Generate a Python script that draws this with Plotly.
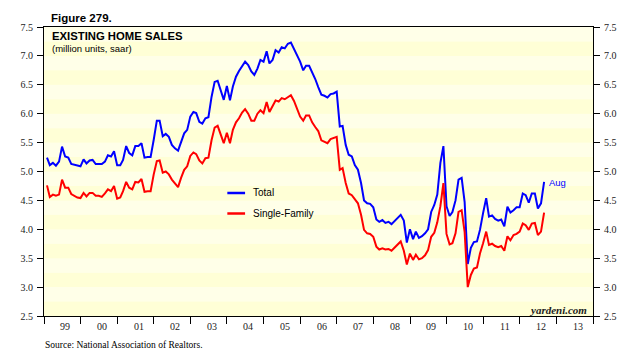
import pandas as pd
import plotly.graph_objects as go

# Existing home sales, million units, saar (monthly, Jan 1999 - Aug 2012)
total_sales = [
    5.24, 5.11, 5.15, 5.10, 5.17, 5.43, 5.26, 5.24, 5.13, 5.12, 5.11, 5.09,  # 1999
    5.21, 5.14, 5.19, 5.20, 5.13, 5.13, 5.13, 5.17, 5.28, 5.26, 5.35, 5.11,  # 2000
    5.11, 5.20, 5.44, 5.32, 5.28, 5.44, 5.44, 5.49, 5.24, 5.25, 5.25, 5.55,  # 2001
    5.88, 5.88, 5.61, 5.65, 5.60, 5.46, 5.40, 5.36, 5.50, 5.66, 5.72, 5.95,  # 2002
    6.03, 6.01, 5.86, 5.83, 5.92, 5.94, 6.29, 6.55, 6.57, 6.40, 6.24, 6.48,  # 2003
    6.23, 6.47, 6.64, 6.74, 6.82, 6.90, 6.84, 6.73, 6.67, 6.78, 6.93, 6.90,  # 2004
    7.08, 6.87, 6.93, 7.10, 7.06, 7.15, 7.13, 7.21, 7.23, 7.12, 7.00, 6.90,  # 2005
    6.75, 6.83, 6.83, 6.72, 6.60, 6.46, 6.33, 6.31, 6.28, 6.34, 6.35, 6.38,  # 2006
    5.78, 5.79, 5.46, 5.29, 5.26, 5.11, 5.03, 4.80, 4.50, 4.45, 4.44, 4.38,  # 2007
    4.17, 4.13, 4.16, 4.11, 4.13, 4.09, 4.14, 4.19, 4.25, 4.15, 3.77, 4.00,  # 2008
    3.83, 3.96, 3.85, 3.88, 3.93, 4.00, 4.30, 4.42, 4.60, 5.15, 5.44, 4.40,  # 2009
    4.23, 4.30, 4.50, 4.86, 4.89, 4.47, 3.40, 3.68, 3.78, 3.79, 3.99, 4.28,  # 2010
    4.54, 4.22, 4.24, 4.18, 4.15, 4.17, 4.05, 4.39, 4.29, 4.33, 4.38, 4.38,  # 2011
    4.62, 4.59, 4.46, 4.62, 4.62, 4.36, 4.45, 4.82,                          # 2012
]

single_family_sales = [
    4.76, 4.56, 4.60, 4.58, 4.60, 4.86, 4.72, 4.72, 4.61, 4.58, 4.55, 4.54,  # 1999
    4.63, 4.57, 4.63, 4.63, 4.58, 4.58, 4.56, 4.62, 4.69, 4.66, 4.75, 4.53,  # 2000
    4.55, 4.66, 4.82, 4.72, 4.69, 4.82, 4.81, 4.87, 4.65, 4.66, 4.66, 4.95,  # 2001
    5.18, 5.19, 4.98, 5.00, 4.95, 4.86, 4.79, 4.73, 4.89, 5.03, 5.09, 5.27,  # 2002
    5.33, 5.30, 5.19, 5.14, 5.23, 5.24, 5.54, 5.76, 5.79, 5.65, 5.49, 5.67,  # 2003
    5.49, 5.72, 5.85, 5.92, 6.02, 6.08, 6.00, 5.88, 5.88, 6.00, 6.06, 6.01,  # 2004
    6.20, 6.03, 6.13, 6.23, 6.21, 6.27, 6.25, 6.29, 6.32, 6.22, 6.10, 5.95,  # 2005
    5.88, 5.97, 5.97, 5.85, 5.77, 5.70, 5.54, 5.52, 5.49, 5.56, 5.58, 5.60,  # 2006
    5.03, 5.06, 4.80, 4.62, 4.59, 4.51, 4.45, 4.25, 3.99, 3.93, 3.92, 3.87,  # 2007
    3.70, 3.65, 3.67, 3.65, 3.66, 3.63, 3.69, 3.74, 3.79, 3.63, 3.39, 3.58,  # 2008
    3.47, 3.56, 3.48, 3.50, 3.55, 3.64, 3.87, 3.94, 4.12, 4.40, 4.80, 3.92,  # 2009
    3.74, 3.76, 3.93, 4.30, 4.33, 3.95, 3.00, 3.21, 3.32, 3.34, 3.58, 3.76,  # 2010
    3.96, 3.73, 3.75, 3.71, 3.69, 3.71, 3.63, 3.88, 3.81, 3.90, 3.92, 3.96,  # 2011
    4.10, 4.07, 3.99, 4.10, 4.11, 3.90, 3.96, 4.29,                          # 2012
]

series_names = ["Total", "Single-Family"]
last_month_label = "Aug"
y_ticks = [2.5, 3.0, 3.5, 4.0, 4.5, 5.0, 5.5, 6.0, 6.5, 7.0, 7.5]
year_labels = ["99", "00", "01", "02", "03", "04", "05", "06",
               "07", "08", "09", "10", "11", "12", "13"]

dates = pd.date_range("1999-01-31", periods=len(total_sales), freq="ME")
year_mids = pd.date_range("1999-07-02", periods=len(year_labels), freq="12MS") + pd.Timedelta(days=1)

BLUE = "#0000FF"
RED = "#FF0000"
TXT = "#222222"

# page has an 8px body margin: figure sits at (8, 8)
OFF = 8
W, H = 642 - 2 * OFF, 357 - 2 * OFF
PL, PT, PR, PB = 36, 27, 593, 316          # plot area in page pixels
L, T = PL - OFF, PT - OFF
R = (OFF + W) - PR
B = (OFF + H) - PB
pw, ph = PR - PL, PB - PT


def px(xp):
    return (xp - PL) / pw


def py(yp):
    return (PB - yp) / ph


fig = go.Figure()
fig.add_trace(go.Scatter(x=dates, y=total_sales, mode="lines", name=series_names[0],
                         line=dict(color=BLUE, width=2), showlegend=False))
fig.add_trace(go.Scatter(x=dates, y=single_family_sales, mode="lines", name=series_names[1],
                         line=dict(color=RED, width=2), showlegend=False))
# invisible trace to activate right axis
fig.add_trace(go.Scatter(x=dates, y=total_sales, mode="lines", yaxis="y2",
                         line=dict(color="rgba(0,0,0,0)", width=0), showlegend=False,
                         hoverinfo="skip"))

# background stripes
shapes = []
v = 2.5
k = 0
while v < 7.5 - 1e-9:
    shapes.append(dict(type="rect", xref="paper", yref="y", x0=0, x1=1, y0=v, y1=v + 0.25,
                       fillcolor="#FFFFD6" if k % 2 == 0 else "#FFFFE8",
                       line=dict(width=0), layer="below"))
    v += 0.25
    k += 1

# legend samples
shapes.append(dict(type="line", xref="paper", yref="paper", x0=px(222), x1=px(240),
                   y0=py(193), y1=py(193), line=dict(color=BLUE, width=2.5)))
shapes.append(dict(type="line", xref="paper", yref="paper", x0=px(222), x1=px(240),
                   y0=py(213.5), y1=py(213.5), line=dict(color=RED, width=2.5)))

sans = "Liberation Sans, Arial"
serif = "Liberation Serif, Times New Roman"

annotations = [
    dict(text="<b>Figure 279.</b>", x=px(41), y=py(17.5), xref="paper", yref="paper",
         xanchor="left", yanchor="middle", showarrow=False,
         font=dict(family=sans, size=11.5, color="#000")),
    dict(text="<b>EXISTING HOME SALES</b>", x=px(42), y=py(36), xref="paper", yref="paper",
         xanchor="left", yanchor="middle", showarrow=False,
         font=dict(family=sans, size=11.3, color="#000")),
    dict(text="(million units, saar)", x=px(42), y=py(49), xref="paper", yref="paper",
         xanchor="left", yanchor="middle", showarrow=False,
         font=dict(family=sans, size=9.5, color="#000")),
    dict(text=series_names[0], x=px(246), y=py(193), xref="paper", yref="paper",
         xanchor="left", yanchor="middle", showarrow=False,
         font=dict(family=sans, size=10, color="#000")),
    dict(text=series_names[1], x=px(246), y=py(213.5), xref="paper", yref="paper",
         xanchor="left", yanchor="middle", showarrow=False,
         font=dict(family=sans, size=10, color="#000")),
    dict(text=last_month_label, x=dates[-1], y=total_sales[-1], xref="x", yref="y",
         xanchor="left", yanchor="middle", xshift=3, yshift=-1, showarrow=False,
         font=dict(family=sans, size=9.5, color=BLUE)),
    dict(text="<b><i>yardeni.com</i></b>", x=px(589), y=py(310), xref="paper", yref="paper",
         xanchor="right", yanchor="middle", showarrow=False,
         font=dict(family=serif, size=11, color="#222")),
    dict(text="Source: National Association of Realtors.", x=px(35), y=py(345),
         xref="paper", yref="paper", xanchor="left", yanchor="middle", showarrow=False,
         font=dict(family=serif, size=9.5, color="#000")),
]
for lab, mid in zip(year_labels, year_mids):
    annotations.append(dict(text=lab, x=mid, y=py(326), xref="x", yref="paper",
                            xanchor="center", yanchor="middle", showarrow=False,
                            font=dict(family=serif, size=10, color=TXT)))

axis_font = dict(family=serif, size=10, color=TXT)

fig.update_layout(
    width=W, height=H,
    margin=dict(l=L, r=R, t=T, b=B, pad=0),
    paper_bgcolor="white",
    plot_bgcolor="#FFFFE0",
    shapes=shapes,
    annotations=annotations,
    showlegend=False,
    xaxis=dict(
        type="date",
        range=["1999-01-01", "2014-01-01"],
        tick0="1999-01-01", dtick="M12",
        showticklabels=False,
        ticks="outside", ticklen=7, tickwidth=1, tickcolor="#000",
        showline=True, linecolor="#000", linewidth=1, mirror=True,
        showgrid=False, zeroline=False,
    ),
    yaxis=dict(
        range=[2.5, 7.5], tickvals=y_ticks, tickformat=".1f",
        ticks="outside", ticklen=6, tickwidth=1, tickcolor="#000",
        showline=True, linecolor="#000", linewidth=1,
        showgrid=False, zeroline=False,
        tickfont=axis_font, ticklabelstandoff=2,
    ),
    yaxis2=dict(
        overlaying="y", side="right",
        range=[2.5, 7.5], tickvals=y_ticks, tickformat=".1f",
        ticks="outside", ticklen=6, tickwidth=1, tickcolor="#000",
        showline=True, linecolor="#000", linewidth=1,
        showgrid=False, zeroline=False,
        tickfont=axis_font, ticklabelstandoff=2,
    ),
)

fig.write_html("out.html")
